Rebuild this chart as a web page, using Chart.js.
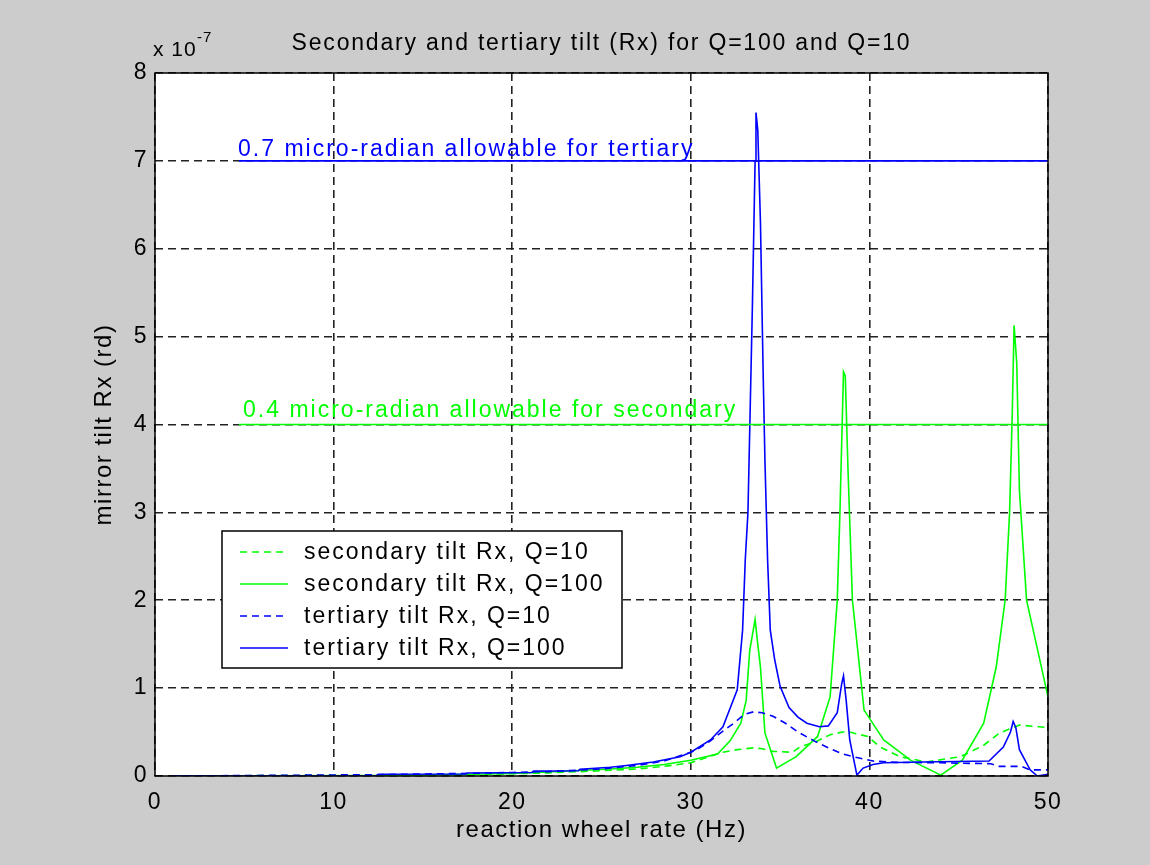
<!DOCTYPE html>
<html>
<head>
<meta charset="utf-8">
<title>Secondary and tertiary tilt (Rx)</title>
<script src="https://cdn.jsdelivr.net/npm/chart.js@4.4.1/dist/chart.umd.min.js"></script>
<style>
  html, body { margin: 0; padding: 0; background: #cccccc; }
  #chart { display: block; }
</style>
</head>
<body>
<canvas id="chart" width="1150" height="865"></canvas>
<script>
// all tilt values in units of 1e-7 rd
const secQ10Hz = [1, 17.5, 22, 25, 27, 28.5, 30, 31, 31.8, 32.6, 33.5, 34, 34.6, 35.7, 36.1, 37, 37.8, 38.5, 38.9, 39.9, 40.6, 41.7, 43.2, 45.1, 46.4, 47.3, 48.4, 49.5, 50];
const secQ10 = [0, 0.015, 0.035, 0.06, 0.08, 0.11, 0.15, 0.22, 0.27, 0.3, 0.32, 0.31, 0.28, 0.27, 0.33, 0.39, 0.47, 0.5, 0.5, 0.45, 0.33, 0.22, 0.16, 0.22, 0.35, 0.49, 0.58, 0.56, 0.55];

const secQ100Hz = [1, 12.5, 17.5, 20, 22, 25.5, 27, 28.5, 30, 31.5, 32.2, 32.8, 33.1, 33.3, 33.6, 33.75, 33.9, 34.15, 34.8, 35.9, 37.1, 37.8, 38.2, 38.35, 38.55, 38.65, 38.8, 39.05, 39.7, 40.8, 42.3, 44, 45.2, 46.4, 47.1, 47.6, 47.85, 48, 48.1, 48.25, 48.4, 48.8, 50];
const secQ100 = [0, 0.005, 0.02, 0.03, 0.045, 0.08, 0.1, 0.13, 0.18, 0.25, 0.4, 0.6, 0.86, 1.43, 1.78, 1.5, 1.24, 0.49, 0.09, 0.22, 0.45, 0.9, 2.0, 3.0, 4.6, 4.55, 3.5, 2.0, 0.75, 0.41, 0.18, 0.01, 0.18, 0.6, 1.24, 2.0, 3.0, 4.13, 5.13, 4.7, 3.25, 2.0, 0.9];

const terQ10Hz = [1, 12.5, 17.5, 20, 22, 25, 27, 28.5, 30, 30.5, 31.1, 31.6, 32.4, 33, 33.5, 34, 34.6, 35.3, 36, 36.9, 37.7, 38.5, 39.3, 40.2, 41.5, 44, 46.8, 47.2, 48.5, 49, 50];
const terQ10 = [0, 0.015, 0.03, 0.04, 0.05, 0.08, 0.12, 0.17, 0.27, 0.32, 0.4, 0.48, 0.6, 0.7, 0.73, 0.72, 0.68, 0.6, 0.5, 0.4, 0.32, 0.25, 0.21, 0.17, 0.155, 0.15, 0.14, 0.11, 0.11, 0.07, 0.07];

const terQ100Hz = [1, 12.4, 12.5, 17.4, 17.5, 21.1, 21.2, 23.7, 23.8, 25.5, 26.4, 27.9, 29.4, 30, 31.1, 31.8, 32.6, 32.9, 33.05, 33.2, 33.45, 33.6, 33.65, 33.75, 33.9, 34.05, 34.15, 34.3, 34.45, 34.7, 35, 35.5, 36, 36.5, 37.2, 37.7, 38.2, 38.45, 38.55, 38.7, 38.9, 39.3, 39.65, 40.2, 40.8, 43, 46.7, 47.5, 47.9, 48.05, 48.2, 48.4, 49, 49.4, 50];
const terQ100 = [0, 0.003, 0.02, 0.022, 0.035, 0.04, 0.055, 0.06, 0.076, 0.1, 0.12, 0.16, 0.22, 0.27, 0.41, 0.56, 0.98, 1.66, 2.46, 3.0, 5.36, 7.0, 7.55, 7.35, 6.3, 4.6, 3.6, 2.46, 1.66, 1.32, 1.02, 0.78, 0.67, 0.6, 0.56, 0.57, 0.72, 1.05, 1.14, 0.86, 0.41, 0.01, 0.09, 0.13, 0.15, 0.16, 0.17, 0.33, 0.5, 0.62, 0.55, 0.3, 0.07, 0.0, 0.02];

// allowable limits
const limitHz = [4.7, 50];
const tertiaryLimit = 7;
const secondaryLimit = 4;

const xTicks = [0, 10, 20, 30, 40, 50];
const yTicks = [0, 1, 2, 3, 4, 5, 6, 7, 8];

const GREEN = "#00ff00";
const BLUE = "#0000ff";
const FONT = "'Liberation Sans', Arial, Helvetica, sans-serif";

function toPoints(xs, ys) {
  return xs.map((x, i) => ({ x: x, y: ys[i] }));
}

const legendItems = [
  { text: "secondary tilt Rx, Q=10", color: GREEN, dash: [7, 5] },
  { text: "secondary tilt Rx, Q=100", color: GREEN, dash: [] },
  { text: "tertiary tilt Rx, Q=10", color: BLUE, dash: [7, 5] },
  { text: "tertiary tilt Rx, Q=100", color: BLUE, dash: [] },
];

const backgroundPlugin = {
  id: "background",
  beforeDraw(chart) {
    const { ctx, chartArea: a } = chart;
    ctx.save();
    ctx.fillStyle = "#cccccc";
    ctx.fillRect(0, 0, chart.width, chart.height);
    ctx.fillStyle = "#ffffff";
    ctx.fillRect(a.left, a.top, a.right - a.left, a.bottom - a.top);
    ctx.restore();
    ctx.letterSpacing = "1.5px";
  },
};

const decorPlugin = {
  id: "decor",
  afterDraw(chart) {
    const { ctx, chartArea: a, scales } = chart;
    ctx.save();
    // axes box
    ctx.strokeStyle = "#000";
    ctx.lineWidth = 1.5;
    ctx.setLineDash([]);
    ctx.strokeRect(a.left, a.top, a.right - a.left, a.bottom - a.top);

    ctx.fillStyle = "#000";
    ctx.textBaseline = "alphabetic";

    // title
    ctx.letterSpacing = "1.8px";
    ctx.font = "23px " + FONT;
    ctx.textAlign = "center";
    ctx.fillText("Secondary and tertiary tilt (Rx) for Q=100 and Q=10", (a.left + a.right) / 2, 50);

    // exponent
    ctx.letterSpacing = "1px";
    ctx.textAlign = "left";
    ctx.font = "21px " + FONT;
    ctx.fillText("x 10", a.left - 2, 56);
    ctx.font = "15px " + FONT;
    ctx.fillText("-7", a.left + 42, 42);

    // limit labels
    ctx.letterSpacing = "2px";
    ctx.font = "23px " + FONT;
    ctx.fillStyle = BLUE;
    ctx.fillText("0.7 micro-radian allowable for tertiary", scales.x.getPixelForValue(4.65), scales.y.getPixelForValue(tertiaryLimit + 0.06));
    ctx.fillStyle = GREEN;
    ctx.fillText("0.4 micro-radian allowable for secondary", scales.x.getPixelForValue(4.93), scales.y.getPixelForValue(secondaryLimit + 0.08));

    // legend
    const lx = 222, ly = 531, lw = 400, lh = 137;
    ctx.fillStyle = "#fff";
    ctx.fillRect(lx, ly, lw, lh);
    ctx.strokeStyle = "#000";
    ctx.lineWidth = 1.5;
    ctx.strokeRect(lx, ly, lw, lh);
    ctx.font = "23px " + FONT;
    ctx.textBaseline = "middle";
    legendItems.forEach((item, i) => {
      const y = ly + 21 + i * 32;
      ctx.strokeStyle = item.color;
      ctx.lineWidth = 1.5;
      ctx.setLineDash(item.dash);
      ctx.beginPath();
      ctx.moveTo(lx + 18, y);
      ctx.lineTo(lx + 66, y);
      ctx.stroke();
      ctx.setLineDash([]);
      ctx.fillStyle = "#000";
      ctx.fillText(item.text, lx + 82, y + 1);
    });
    ctx.restore();
  },
};

const lineStyle = { fill: false, pointRadius: 0, borderWidth: 1.6, tension: 0 };

const ctx = document.getElementById("chart").getContext("2d");
new Chart(ctx, {
  type: "line",
  data: {
    datasets: [
      { ...lineStyle, label: "secondary tilt Rx, Q=10", data: toPoints(secQ10Hz, secQ10), borderColor: GREEN, borderDash: [7, 5], order: 6 },
      { ...lineStyle, label: "secondary tilt Rx, Q=100", data: toPoints(secQ100Hz, secQ100), borderColor: GREEN, order: 5 },
      { ...lineStyle, label: "tertiary tilt Rx, Q=10", data: toPoints(terQ10Hz, terQ10), borderColor: BLUE, borderDash: [7, 5], order: 4 },
      { ...lineStyle, label: "tertiary tilt Rx, Q=100", data: toPoints(terQ100Hz, terQ100), borderColor: BLUE, order: 3 },
      { ...lineStyle, label: "tertiary limit", data: limitHz.map((x) => ({ x: x, y: tertiaryLimit })), borderColor: BLUE, order: 2 },
      { ...lineStyle, label: "secondary limit", data: limitHz.map((x) => ({ x: x, y: secondaryLimit })), borderColor: GREEN, order: 1 },
    ],
  },
  options: {
    responsive: false,
    animation: false,
    events: [],
    layout: { padding: { left: 0, right: 102, top: 73, bottom: 0 } },
    plugins: {
      legend: { display: false },
      title: { display: false },
      tooltip: { enabled: false },
    },
    scales: {
      x: {
        type: "linear",
        min: 0,
        max: 50,
        afterFit: (scale) => { scale.height = 89; },
        afterBuildTicks: (scale) => { scale.ticks = xTicks.map((v) => ({ value: v })); },
        ticks: { color: "#000", padding: 13, font: { family: FONT, size: 23 } },
        grid: { color: "#222", lineWidth: 1.6, drawTicks: false },
        border: { display: false, dash: [8, 5] },
        title: { display: true, text: "reaction wheel rate (Hz)", color: "#000", font: { family: FONT, size: 24 }, padding: { top: 0, bottom: 20 } },
      },
      y: {
        type: "linear",
        min: 0,
        max: 8,
        afterFit: (scale) => { scale.width = 155; },
        afterBuildTicks: (scale) => { scale.ticks = yTicks.map((v) => ({ value: v })); },
        ticks: { color: "#000", padding: 7, font: { family: FONT, size: 23 } },
        grid: { color: "#222", lineWidth: 1.6, drawTicks: false },
        border: { display: false, dash: [8, 5] },
        title: { display: true, text: "mirror tilt Rx (rd)", color: "#000", font: { family: FONT, size: 24 }, padding: { top: 90, bottom: 0 } },
      },
    },
  },
  plugins: [backgroundPlugin, decorPlugin],
});
</script>
</body>
</html>
